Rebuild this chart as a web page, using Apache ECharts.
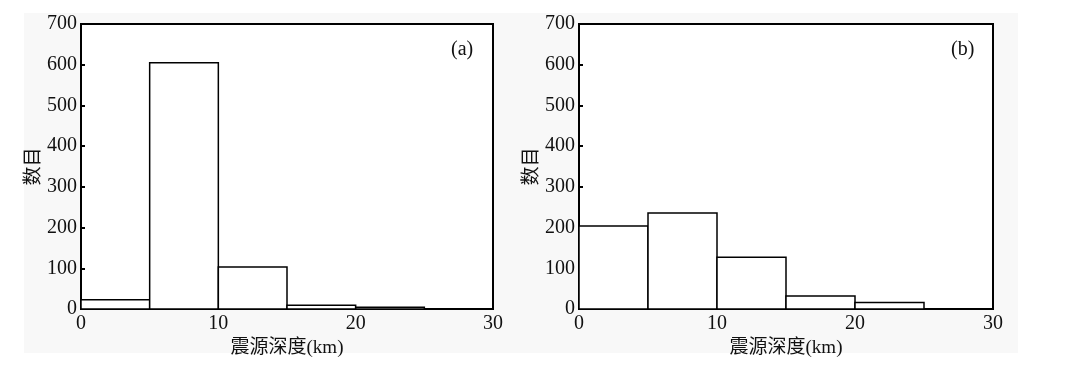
<!DOCTYPE html>
<html>
<head>
<meta charset="utf-8">
<script src="https://cdn.jsdelivr.net/npm/echarts@6/dist/echarts.min.js"></script>
<style>html,body{margin:0;padding:0;background:#fff;}#c{width:1070px;height:369px;}</style>
</head>
<body>
<div id="c"></div>
<script>
const binEdges = [0, 5, 10, 15, 20, 25];
const countsA = [23, 605, 103, 9, 4];
const countsB = [204, 236, 127, 32, 16];
const panelLabels = ['(a)', '(b)'];
const xTitle = '震源深度(km)';
const yTitle = '数目';

const FONT = "'Liberation Serif', 'Times New Roman', 'Noto Sans CJK SC', serif";

function toData(counts) {
  return counts.map((c, i) => [binEdges[i], binEdges[i + 1], c]);
}

function renderItem(params, api) {
  const x0 = api.value(0), x1 = api.value(1), y = api.value(2);
  const p0 = api.coord([x0, y]);
  const p1 = api.coord([x1, 0]);
  return {
    type: 'rect',
    shape: { x: p0[0], y: p0[1], width: p1[0] - p0[0], height: p1[1] - p0[1] },
    style: { fill: '#fff', stroke: '#000', lineWidth: 1.5 }
  };
}

const grids = [
  { left: 81, top: 24, width: 412, height: 285 },
  { left: 579, top: 24, width: 414, height: 285 }
];

function xAxis(i) {
  return {
    type: 'value', gridIndex: i, min: 0, max: 30, interval: 10,
    name: xTitle, nameLocation: 'middle', nameGap: 22,
    nameTextStyle: { fontFamily: FONT, fontSize: 19, color: '#111' },
    axisLine: { show: true, lineStyle: { color: '#000', width: 2 } },
    axisTick: { show: false },
    splitLine: { show: false },
    axisLabel: { fontFamily: FONT, fontSize: 20, color: '#111', margin: 5 }
  };
}
function yAxis(i) {
  return {
    type: 'value', gridIndex: i, min: 0, max: 700, interval: 100,
    name: yTitle, nameLocation: 'middle', nameGap: 37, nameRotate: 90,
    nameTextStyle: { fontFamily: FONT, fontSize: 19, color: '#111' },
    axisLine: { show: true, lineStyle: { color: '#000', width: 2 } },
    axisTick: { show: true, inside: true, length: 4, lineStyle: { color: '#000', width: 2 } },
    splitLine: { show: false },
    axisLabel: { fontFamily: FONT, fontSize: 20, color: '#111', margin: 4 }
  };
}

const chart = echarts.init(document.getElementById('c'), null, { renderer: 'canvas' });
chart.setOption({
  animation: false,
  backgroundColor: '#fff',
  graphic: [
    { type: 'rect', z: -100, silent: true, shape: { x: 24, y: 13, width: 994, height: 340 }, style: { fill: '#f8f8f8' } },
    { type: 'text', left: 451, top: 40, style: { text: panelLabels[0], font: "20px " + FONT, fill: '#111' } },
    { type: 'text', left: 951, top: 40, style: { text: panelLabels[1], font: "20px " + FONT, fill: '#111' } }
  ],
  grid: grids.map(g => Object.assign({ show: true, backgroundColor: '#fff', borderColor: '#000', borderWidth: 2 }, g)),
  xAxis: [xAxis(0), xAxis(1)],
  yAxis: [yAxis(0), yAxis(1)],
  series: [
    { type: 'custom', xAxisIndex: 0, yAxisIndex: 0, renderItem, data: toData(countsA), encode: { x: [0, 1], y: 2 } },
    { type: 'custom', xAxisIndex: 1, yAxisIndex: 1, renderItem, data: toData(countsB), encode: { x: [0, 1], y: 2 } }
  ]
});
</script>
</body>
</html>
